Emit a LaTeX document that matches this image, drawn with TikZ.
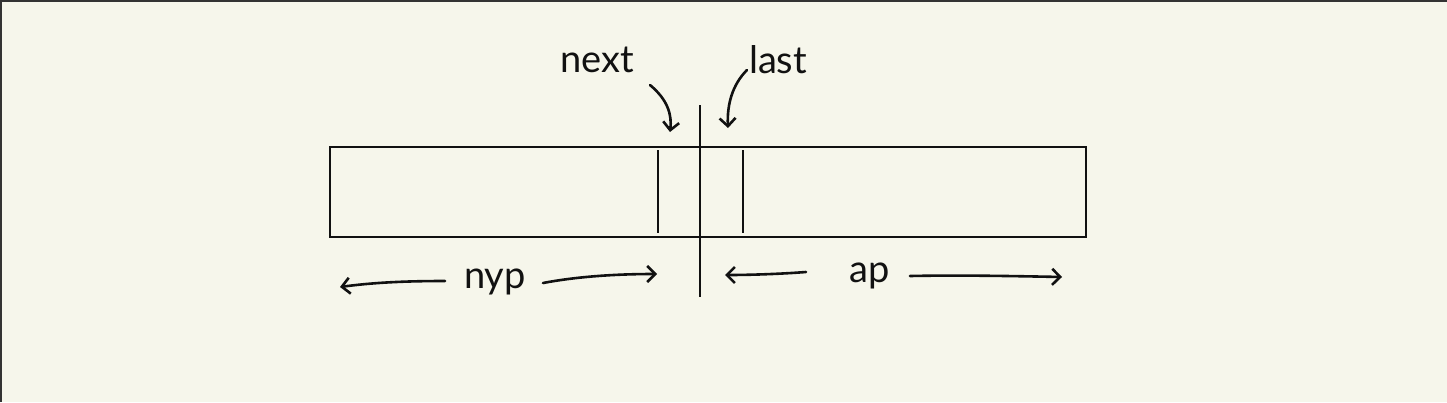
\documentclass[tikz,border=0pt]{standalone}
\usepackage{fontspec}
\setmainfont{Lato}
\usetikzlibrary{arrows.meta}
\definecolor{paper}{HTML}{F6F6EB}
\definecolor{ink}{HTML}{111111}
\definecolor{frame}{HTML}{333333}
\begin{document}
\begin{tikzpicture}[x=1pt,y=-1pt,
  ink line/.style={draw=ink,line width=2.4pt},
  hand/.style={ink line,line width=2.6pt,line cap=round,-{Straight Barb[length=8pt,width=16pt,line width=2.6pt]}},
  lbl/.style={inner sep=0pt,text=ink,font=\fontsize{38}{40}\selectfont}]
\fill[paper] (0,0) rectangle (1447,402);
\useasboundingbox (0,0) rectangle (1447,402);
\draw[frame,line width=2pt] (1,402) -- (1,1) -- (1447,1);
% main box
\node[ink line,minimum width=756pt,minimum height=90pt,inner sep=0pt,anchor=north west] (box) at (329,146) {};
\draw[ink line] (658,150) -- (658,233);
\draw[ink line] (743,150) -- (743,233);
\draw[ink line] (700,105) -- (700,297);
% labels
\node[lbl] (next) at (597,60) {next};
\node[lbl] (last) at (778,60) {last};
\node[lbl] (nyp) at (495,282) {nyp};
\node[lbl] (ap) at (870,276) {ap};
% targets
\coordinate (tn) at (670,132);
\coordinate (tl) at (728,128);
\coordinate (nl) at (340,287);
\coordinate (nr) at (657,274);
\coordinate (al) at (725,275);
\coordinate (ar) at (1062,277);
\draw[hand] (650,85) .. controls (668,100) and (672,115) .. (tn);
\draw[hand] (747,70) .. controls (732,85) and (727,105) .. (tl);
\draw[hand] (445,281) .. controls (400,281) and (370,283) .. (nl);
\draw[hand] (543,283) .. controls (580,276) and (620,274) .. (nr);
\draw[hand] (806,272) .. controls (780,274) and (750,275) .. (al);
\draw[hand] (910,276) .. controls (960,275) and (1010,276) .. (ar);
\end{tikzpicture}
\end{document}
